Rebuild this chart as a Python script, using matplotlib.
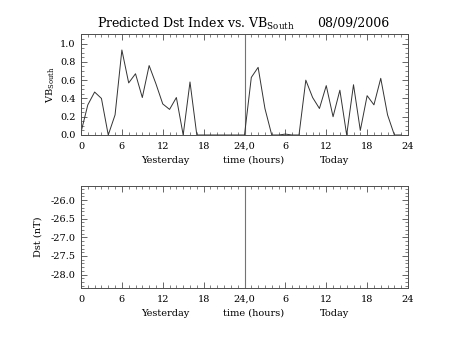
import matplotlib
matplotlib.use("Agg")
import matplotlib.pyplot as plt
from matplotlib.ticker import MultipleLocator, FixedLocator

plt.rcParams['font.family'] = ['DejaVu Serif']
plt.rcParams['mathtext.fontset'] = 'dejavuserif'

# Hourly VB_south values, yesterday (hours 0-23) and today (hours 0-23)
hours = list(range(48))
vb_south = [0.03, 0.33, 0.47, 0.40, 0.00, 0.22, 0.93, 0.57, 0.67, 0.41,
            0.76, 0.56, 0.34, 0.28, 0.41, 0.00, 0.58, 0.00, 0.00, 0.00,
            0.00, 0.00, 0.00, 0.00,
            0.00, 0.63, 0.74, 0.29, 0.00, 0.00, 0.01, 0.00, 0.00, 0.60,
            0.41, 0.29, 0.54, 0.20, 0.49, 0.00, 0.55, 0.05, 0.43, 0.33,
            0.62, 0.22, 0.00, 0.00]
dst_range = (-28.36, -25.62)
xtick_pos = [0, 6, 12, 18, 24, 30, 36, 42, 48]
xtick_labels = ['0', '6', '12', '18', '24,0', '6', '12', '18', '24']
title_main = r'Predicted Dst Index vs. VB$_{\mathrm{South}}$'
title_date = '08/09/2006'

W, H = 453, 340
fig = plt.figure(figsize=(W / 100, H / 100), dpi=100)

def setup(ax):
    ax.set_xlim(0, 48)
    ax.xaxis.set_major_locator(FixedLocator(xtick_pos))
    ax.set_xticklabels(xtick_labels)
    ax.xaxis.set_minor_locator(MultipleLocator(1))
    ax.tick_params(which='both', direction='in', top=True, right=True,
                   labelsize=7, color='0.3')
    ax.tick_params(axis='x', pad=5)
    ax.tick_params(axis='y', pad=4)
    ax.tick_params(which='major', length=4, width=0.6)
    ax.tick_params(which='minor', length=2, width=0.5)
    for s in ax.spines.values():
        s.set_color('0.3')
        s.set_linewidth(0.7)
    ax.axvline(24, color='0.45', lw=0.8)
    ax.text(12.3, -0.25, 'Yesterday', transform=ax.get_xaxis_transform(),
            ha='center', va='center', fontsize=7)
    ax.text(25.3, -0.25, 'time (hours)', transform=ax.get_xaxis_transform(),
            ha='center', va='center', fontsize=7)
    ax.text(37.2, -0.25, 'Today', transform=ax.get_xaxis_transform(),
            ha='center', va='center', fontsize=7)

ax1 = fig.add_axes([81 / W, 1 - 135 / H, (408 - 81) / W, (135 - 34) / H])
setup(ax1)
ax1.plot(hours, vb_south, color='0.2', lw=0.7)
ax1.set_ylim(0, 1.105)
ax1.yaxis.set_major_locator(MultipleLocator(0.2))
ax1.yaxis.set_minor_locator(MultipleLocator(0.05))
ax1.yaxis.set_major_formatter(matplotlib.ticker.FormatStrFormatter('%.1f'))
ax1.set_ylabel(r'VB$_{\mathrm{South}}$', fontsize=7, labelpad=2)

ax2 = fig.add_axes([81 / W, 1 - 288 / H, (408 - 81) / W, (288 - 186) / H])
setup(ax2)
ax2.set_ylim(*dst_range)
ax2.yaxis.set_major_locator(MultipleLocator(0.5))
ax2.yaxis.set_minor_locator(MultipleLocator(0.1))
ax2.yaxis.set_major_formatter(matplotlib.ticker.FormatStrFormatter('%.1f'))
ax2.set_ylabel('Dst (nT)', fontsize=7, labelpad=6)

fig.text(97 / W, 1 - 24 / H, title_main, ha='left', va='center', fontsize=9)
fig.text(317 / W, 1 - 24 / H, title_date, ha='left', va='center', fontsize=9)

fig.savefig('out.png', dpi=100)
